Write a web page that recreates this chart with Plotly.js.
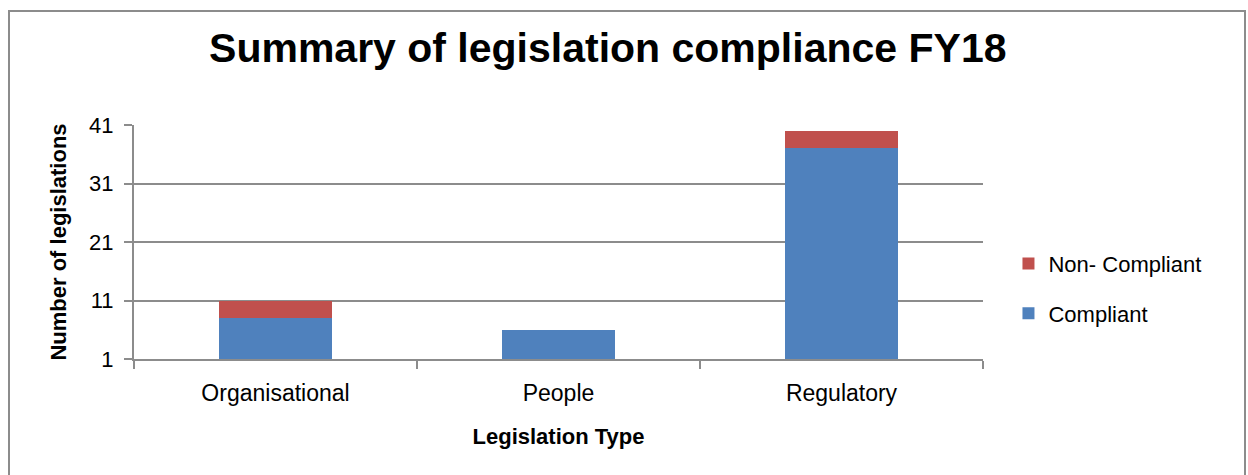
<!DOCTYPE html>
<html>
<head>
<meta charset="utf-8">
<script src="https://cdn.plot.ly/plotly-3.0.1.min.js"></script>
<style>
html,body{margin:0;padding:0;background:#fff;}
#wrap{position:relative;width:1248px;height:475px;}
#chart{width:1248px;height:475px;}
#frame{position:absolute;left:8px;top:10px;width:1238px;height:470px;border:2px solid #8c8c8c;box-sizing:border-box;pointer-events:none;}
</style>
</head>
<body>
<div id="wrap">
<div id="chart"></div>
<div id="frame"></div>
</div>
<script>
const categories = ["Organisational", "People", "Regulatory"];
const compliant = [8, 6, 37];
const nonCompliant = [3, 0, 3];
const yTicks = [1, 11, 21, 31, 41];

const font = "Liberation Sans, Arial, sans-serif";

const traces = [
  {type: "bar", name: "Compliant", x: categories, y: compliant,
   legendgroup: "a", legendrank: 2, marker: {color: "#4f81bd"}},
  {type: "bar", name: "Non- Compliant", x: categories, y: nonCompliant,
   legendgroup: "b", legendrank: 1, marker: {color: "#c0504d"}}
];

const layout = {
  width: 1248, height: 475,
  barmode: "stack",
  bargap: 0.6,
  paper_bgcolor: "rgba(0,0,0,0)",
  plot_bgcolor: "#fff",
  margin: {l: 134, r: 265, t: 125, b: 116},
  font: {family: font, color: "#000", size: 23},
  title: {text: "<b>Summary of legislation compliance FY18</b>",
          font: {family: font, size: 41, color: "#000"},
          x: 0.487, xanchor: "center", y: 0.9, yanchor: "middle"},
  xaxis: {
    type: "category",
    showline: true, linecolor: "#8c8c8c", linewidth: 2,
    ticks: "outside", tickson: "boundaries", ticklen: 8, tickcolor: "#8c8c8c", tickwidth: 2,
    tickfont: {size: 23},
    ticklabelstandoff: 12,
    title: {text: "<b>Legislation Type</b>", font: {size: 22}, standoff: 24},
    showgrid: false
  },
  yaxis: {
    range: [1, 41],
    tickvals: yTicks,
    showline: true, linecolor: "#8c8c8c", linewidth: 2,
    ticks: "outside", ticklen: 8, tickcolor: "#8c8c8c", tickwidth: 2,
    showgrid: true, gridcolor: "#8c8c8c", gridwidth: 2,
    zeroline: false,
    tickfont: {size: 22},
    ticklabelstandoff: 6,
    title: {text: "<b>Number of legislations</b>", font: {size: 22}, standoff: 16}
  },
  legend: {
    x: 1.03, xanchor: "left", y: 0.3, yanchor: "middle",
    traceorder: "grouped",
    font: {size: 22},
    itemwidth: 30,
    tracegroupgap: 18
  },
  showlegend: true
};

Plotly.newPlot("chart", traces, layout, {displayModeBar: false, staticPlot: true});
</script>
</body>
</html>
